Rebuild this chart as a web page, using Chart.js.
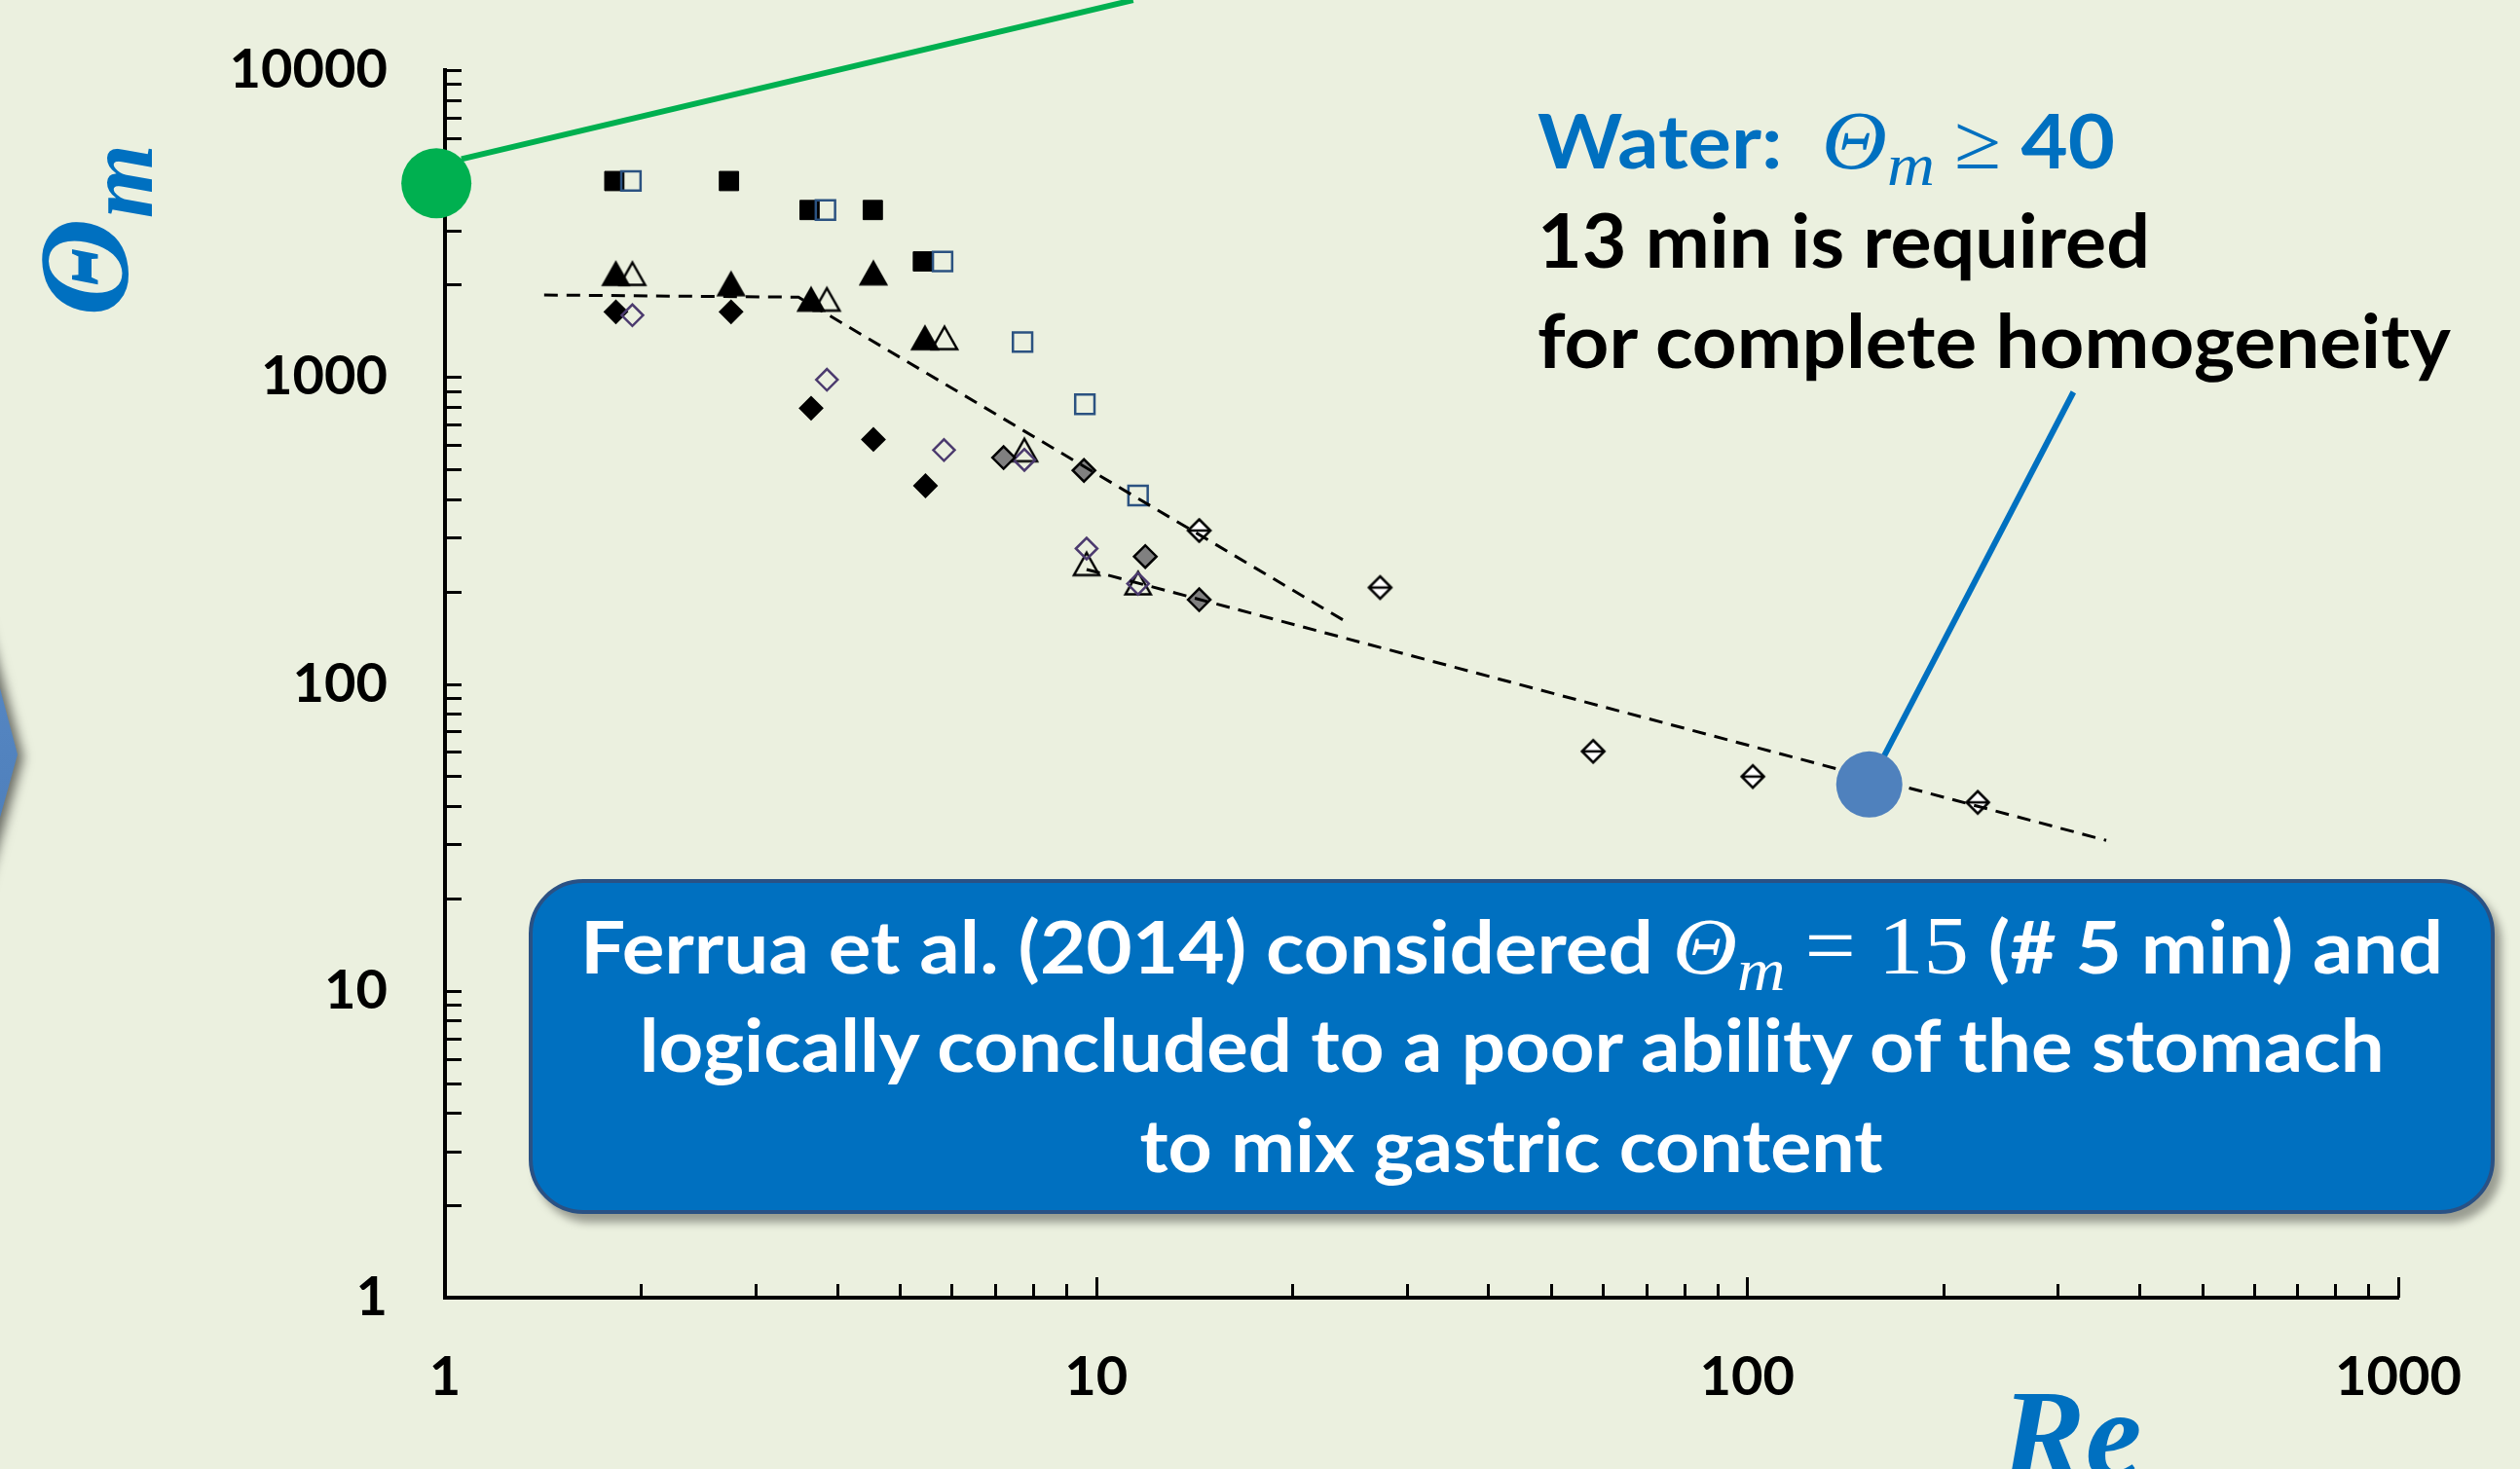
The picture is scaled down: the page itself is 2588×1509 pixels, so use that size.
<!DOCTYPE html>
<html>
<head>
<meta charset="utf-8">
<title>Θm vs Re</title>
<script src="https://cdn.jsdelivr.net/npm/chart.js@4.4.1/dist/chart.umd.min.js"></script>
<style>
  html, body { margin: 0; padding: 0; background: #EBF0DF; }
  #stage { position: relative; width: 2588px; height: 1509px; overflow: hidden; background: #EBF0DF; font-family: 'Lato', sans-serif; }
  #chart-box { position: absolute; left: 0; top: 0; width: 2588px; height: 1509px; }
  .arrow-wrap { position: absolute; left: 0; top: 0; width: 60px; height: 1000px; filter: drop-shadow(6px 3px 6px rgba(0,0,0,0.55)); }
  .arrow { position: absolute; left: -30px; top: 594px; width: 48px; height: 354px; background: linear-gradient(#5A8AC6, #4A7CB8);
           clip-path: polygon(0 0, 48px 181px, 0 354px); }
  #ytitle { position: absolute; left: 21px; top: 325px; transform-origin: 0 0; transform: rotate(-90deg);
            color: #0070C0; font: italic bold 132px/1 'Liberation Serif', serif; white-space: nowrap; }
  #ytitle .sub { font-size: 98px; vertical-align: -25px; }
  #xtitle { position: absolute; left: 2055px; top: 1408px; color: #0070C0; font: italic bold 130px/1 'Liberation Serif', serif; white-space: nowrap; }
  .note { position: absolute; left: 1579px; font: bold 76px/1.2 'Lato', sans-serif; white-space: nowrap; }
  .note span.fit, .cline span.fit { display: inline-block; }
  .note span.fit { transform-origin: 0 50%; }
  .cline span.fit { transform-origin: 50% 50%; }
  .math { font-family: 'Liberation Serif', serif; font-weight: normal; line-height: 1; }
  .mi { font-style: italic; }
  .sub { vertical-align: -17px; }
  #callout { position: absolute; left: 543px; top: 903px; width: 2019px; height: 344px; box-sizing: border-box;
             background: #0070C0; border: 4px solid #2A5184; border-radius: 56px; box-shadow: 7px 9px 9px rgba(0,0,0,0.35); }
  .cline { position: absolute; left: 543px; width: 2019px; text-align: center; color: #fff; font: bold 74px/1.2 'Lato', sans-serif; white-space: nowrap; }
</style>
</head>
<body>
<div id="stage">
  <div class="arrow-wrap"><div class="arrow"></div></div>
  <div id="chart-box"><canvas id="chart"></canvas></div>

  <div id="ytitle">Θ<span class="sub">m</span></div>
  <div id="xtitle">Re</div>

  <div class="note" style="top:98px;color:#0070C0"><span class="fit" data-w="593">Water:&nbsp; <span class="math mi" style="font-size:85px">Θ<span class="sub" style="font-size:62px">m</span></span> <span class="math" style="font-size:80px">≥</span> 40</span></div>
  <div class="note" style="top:200px;color:#000"><span class="fit" data-w="629">13 min is required</span></div>
  <div class="note" style="top:303px;color:#000"><span class="fit" data-w="938">for complete homogeneity</span></div>

  <div id="callout"></div>
  <div class="cline" style="top:928px"><span class="fit" data-w="1913">Ferrua et al. (2014) considered <span class="math mi" style="font-size:83px">Θ<span class="sub" style="font-size:62px">m</span></span> <span class="math" style="font-size:84px">= 15</span> (# 5 min) and</span></div>
  <div class="cline" style="top:1029px"><span class="fit" data-w="1792">logically concluded to a poor ability of the stomach</span></div>
  <div class="cline" style="top:1132px"><span class="fit" data-w="763">to mix gastric content</span></div>
</div>

<script>
// axis ticks
const xTickValues = [1, 10, 100, 1000];
const yTickValues = [1, 10, 100, 1000, 10000];

// Re (x) and Θm (y), one pair of arrays per marker type
const filledSquareRe = [1.82, 2.73, 3.63, 4.54, 5.42];
const filledSquareTheta = [4350, 4350, 3500, 3500, 2380];

const openSquareRe = [1.93, 3.84, 5.81, 7.71, 9.61, 11.6];
const openSquareTheta = [4350, 3500, 2380, 1300, 815, 411];

const filledTriangleRe = [1.83, 2.75, 3.65, 4.55, 5.46];
const filledTriangleTheta = [2170, 2010, 1790, 2180, 1340];

const openTriangleRe = [1.94, 3.86, 5.85, 7.76, 9.67, 11.6];
const openTriangleTheta = [2170, 1790, 1340, 578, 246, 213];

const filledDiamondRe = [1.83, 2.75, 3.65, 4.55, 5.47];
const filledDiamondTheta = [1630, 1630, 791, 626, 442];

const openDiamondRe = [1.94, 3.86, 5.84, 7.76, 9.67, 11.6];
const openDiamondTheta = [1590, 980, 578, 537, 276, 212];

const grayDiamondRe = [7.21, 9.58, 11.9, 14.4];
const grayDiamondTheta = [546, 496, 260, 188];

const splitDiamondRe = [14.4, 27.3, 58.0, 102, 226];
const splitDiamondTheta = [316, 206, 60.3, 49.9, 41.1];

// dashed trend lines
const trendHighRe = [1.42, 3.49, 24.5];
const trendHighTheta = [1850, 1820, 157];
const trendLowRe = [9.67, 356];
const trendLowTheta = [236, 30.9];

// highlighted points and their callout leaders
const greenDotRe = [0.97];
const greenDotTheta = [4280];
const greenLeaderRe = [1.06, 11.4];
const greenLeaderTheta = [5130, 16900];

const blueDotRe = [154];
const blueDotTheta = [47.0];
const blueLeaderRe = [154, 317];
const blueLeaderTheta = [47.0, 893];

const pts = (xs, ys) => xs.map((x, i) => ({ x, y: ys[i] }));

function triangleMarker(fill) {
  const c = document.createElement('canvas');
  c.width = 32; c.height = 30;
  const g = c.getContext('2d');
  g.beginPath();
  g.moveTo(16, 3.5); g.lineTo(29, 26.5); g.lineTo(3, 26.5); g.closePath();
  g.lineWidth = 2.5; g.strokeStyle = '#000';
  if (fill) { g.fillStyle = fill; g.fill(); }
  g.stroke();
  return c;
}

function splitDiamondMarker() {
  const c = document.createElement('canvas');
  c.width = 28; c.height = 28;
  const g = c.getContext('2d');
  g.beginPath();
  g.moveTo(14, 2.5); g.lineTo(25.5, 14); g.lineTo(14, 25.5); g.lineTo(2.5, 14); g.closePath();
  g.fillStyle = '#fff'; g.fill();
  g.lineWidth = 2.5; g.strokeStyle = '#000'; g.stroke();
  g.beginPath(); g.moveTo(3, 14); g.lineTo(25, 14); g.stroke();
  return c;
}

// minor + major ticks pointing into the plot
const insideTicks = {
  id: 'insideTicks',
  beforeDatasetsDraw(chart) {
    const { ctx, chartArea: a, scales: { x, y } } = chart;
    ctx.save();
    ctx.strokeStyle = '#000';
    ctx.lineWidth = 3;
    ctx.beginPath();
    for (let d = 0; d < 4; d++) {
      for (let k = 1; k <= 9; k++) {
        const py = Math.round(y.getPixelForValue(k * 10 ** d)) + 0.5;
        ctx.moveTo(a.left, py); ctx.lineTo(a.left + 17, py);
      }
    }
    const top = Math.round(y.getPixelForValue(10000)) + 0.5;
    ctx.moveTo(a.left, top); ctx.lineTo(a.left + 17, top);
    for (let d = 0; d < 3; d++) {
      for (let k = 1; k <= 9; k++) {
        const px = Math.round(x.getPixelForValue(k * 10 ** d)) + 0.5;
        const len = k === 1 ? 21 : 14;
        ctx.moveTo(px, a.bottom); ctx.lineTo(px, a.bottom - len);
      }
    }
    const last = Math.round(x.getPixelForValue(1000)) + 0.5;
    ctx.moveTo(last, a.bottom); ctx.lineTo(last, a.bottom - 21);
    ctx.stroke();
    ctx.restore();
  }
};

const tickFont = { family: 'Lato', weight: 'bold', size: 56 };

new Chart(document.getElementById('chart'), {
  type: 'scatter',
  data: {
    datasets: [
      { label: 'green dot', data: pts(greenDotRe, greenDotTheta), pointRadius: 36, pointStyle: 'circle',
        backgroundColor: '#00B050', borderWidth: 0, clip: false, order: 0 },
      { label: 'blue dot', data: pts(blueDotRe, blueDotTheta), pointRadius: 34, pointStyle: 'circle',
        backgroundColor: '#4F81BD', borderWidth: 0, clip: false, order: 0 },
      { label: 'green leader', data: pts(greenLeaderRe, greenLeaderTheta), showLine: true, pointRadius: 0,
        borderColor: '#00B050', borderWidth: 6, clip: false, order: 1 },
      { label: 'blue leader', data: pts(blueLeaderRe, blueLeaderTheta), showLine: true, pointRadius: 0,
        borderColor: '#0070C0', borderWidth: 6, clip: false, order: 1 },
      { label: 'trend high', data: pts(trendHighRe, trendHighTheta), showLine: true, pointRadius: 0,
        borderColor: '#000', borderWidth: 3, borderDash: [14, 9], order: 2 },
      { label: 'trend low', data: pts(trendLowRe, trendLowTheta), showLine: true, pointRadius: 0,
        borderColor: '#000', borderWidth: 3, borderDash: [14, 9], order: 2 },
      { label: 'split diamond', data: pts(splitDiamondRe, splitDiamondTheta), pointRadius: 14,
        pointStyle: splitDiamondMarker(), order: 3 },
      { label: 'gray diamond', data: pts(grayDiamondRe, grayDiamondTheta), pointRadius: 11.5, pointStyle: 'rectRot',
        backgroundColor: '#808080', borderColor: '#000', borderWidth: 2.5, order: 4 },
      { label: 'open diamond', data: pts(openDiamondRe, openDiamondTheta), pointRadius: 11, pointStyle: 'rectRot',
        backgroundColor: 'rgba(0,0,0,0)', borderColor: '#4B3A6E', borderWidth: 2.5, order: 5 },
      { label: 'filled diamond', data: pts(filledDiamondRe, filledDiamondTheta), pointRadius: 11.5, pointStyle: 'rectRot',
        backgroundColor: '#000', borderColor: '#000', borderWidth: 2, order: 6 },
      { label: 'open triangle', data: pts(openTriangleRe, openTriangleTheta), pointRadius: 15,
        pointStyle: triangleMarker(null), order: 7 },
      { label: 'filled triangle', data: pts(filledTriangleRe, filledTriangleTheta), pointRadius: 15,
        pointStyle: triangleMarker('#000'), order: 8 },
      { label: 'open square', data: pts(openSquareRe, openSquareTheta), pointRadius: 14, pointStyle: 'rect',
        backgroundColor: 'rgba(0,0,0,0)', borderColor: '#2B5281', borderWidth: 2.5, order: 9 },
      { label: 'filled square', data: pts(filledSquareRe, filledSquareTheta), pointRadius: 14, pointStyle: 'rect',
        backgroundColor: '#000', borderColor: '#000', borderWidth: 1, order: 10 }
    ]
  },
  options: {
    responsive: true,
    maintainAspectRatio: false,
    animation: false,
    devicePixelRatio: 1,
    events: [],
    layout: { padding: { top: 72, right: 125, left: 0, bottom: 0 } },
    plugins: { legend: { display: false }, tooltip: { enabled: false } },
    scales: {
      x: {
        type: 'logarithmic', position: 'bottom', min: 1, max: 1000,
        afterBuildTicks: s => { s.ticks = xTickValues.map(v => ({ value: v })); },
        afterFit: s => { s.height = 176; s.paddingLeft = 0; s.paddingRight = 0; },
        grid: { display: false, drawTicks: false },
        border: { display: true, color: '#000', width: 4 },
        ticks: { autoSkip: false, maxRotation: 0, padding: 48, color: '#000', font: tickFont, callback: v => String(v) }
      },
      y: {
        type: 'logarithmic', position: 'left', min: 1, max: 10000,
        afterBuildTicks: s => { s.ticks = yTickValues.map(v => ({ value: v })); },
        afterFit: s => { s.width = 457; s.paddingTop = 0; s.paddingBottom = 0; },
        grid: { display: false, drawTicks: false },
        border: { display: true, color: '#000', width: 4 },
        ticks: { autoSkip: false, padding: 59, color: '#000', font: tickFont, callback: v => String(v) }
      }
    }
  },
  plugins: [insideTicks]
});

// squeeze text lines to the widths of the original (narrower) typeface
function fitText() {
  document.querySelectorAll('[data-w]').forEach(el => {
    el.style.transform = 'none';
    const w = el.getBoundingClientRect().width;
    if (w > 0) el.style.transform = `scaleX(${(+el.dataset.w / w).toFixed(4)})`;
  });
}
fitText();
document.fonts.ready.then(fitText);
</script>
</body>
</html>
